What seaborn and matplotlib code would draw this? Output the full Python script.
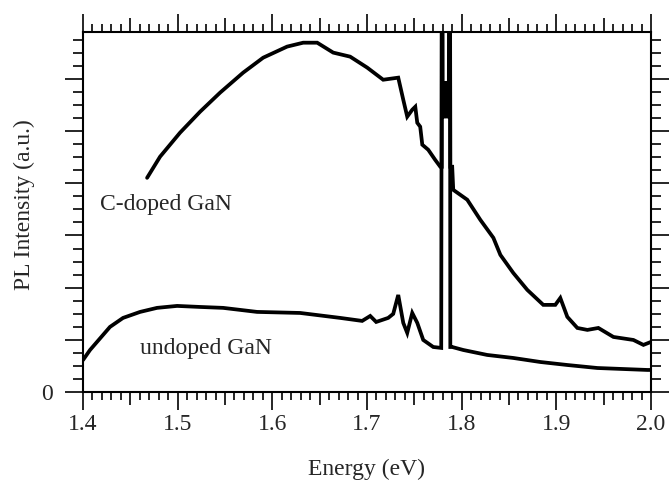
import matplotlib
matplotlib.use("Agg")
import matplotlib.pyplot as plt
import matplotlib.ticker as mticker
import seaborn as sns
import pandas as pd
import numpy as np

# ---- data ----
undoped_x = [1.400, 1.4074, 1.4285, 1.4423, 1.4603, 1.4782, 1.4994, 1.5237, 1.5480, 1.5839,
             1.6294, 1.6717, 1.6949, 1.7034, 1.7097, 1.7224, 1.7277, 1.7330, 1.7383, 1.7425,
             1.7478, 1.7531, 1.7594, 1.7700, 1.7784, 1.7795, 1.7875, 1.7880, 1.7900, 1.8017,
             1.8270, 1.8545, 1.8831, 1.9116, 1.9433, 1.9962, 2.000]
undoped_y = [2.45, 3.22, 4.99, 5.68, 6.14, 6.45, 6.60, 6.52, 6.45, 6.14,
             6.06, 5.68, 5.45, 5.83, 5.37, 5.68, 5.99, 7.44, 5.30, 4.53,
             6.06, 5.30, 3.99, 3.45, 3.38, 60.0, 60.0, 3.45, 3.45, 3.22,
             2.84, 2.61, 2.30, 2.07, 1.84, 1.69, 1.69]

cdoped_x = [1.4677, 1.4814, 1.5025, 1.5237, 1.5448, 1.5691, 1.5903, 1.6156, 1.6326, 1.6474,
            1.6643, 1.6822, 1.7002, 1.7171, 1.7330, 1.7383, 1.7425, 1.7478, 1.7510, 1.7531,
            1.7562, 1.7584, 1.7647, 1.7720, 1.7774, 1.7790, 1.7793, 1.7800, 1.7808, 1.7816,
            1.7824, 1.7832, 1.7840, 1.7848, 1.7856, 1.7864, 1.7872, 1.7880, 1.7900, 1.7911,
            1.8059, 1.8197, 1.8335, 1.8409, 1.8545, 1.8693, 1.8862, 1.8989, 1.9042, 1.9116,
            1.9222, 1.9328, 1.9444, 1.9603, 1.9814, 1.9920, 2.000]
cdoped_y = [16.42, 18.04, 19.88, 21.49, 22.95, 24.48, 25.63, 26.48, 26.78, 26.78,
            26.02, 25.71, 24.87, 23.94, 24.10, 22.41, 21.11, 21.64, 21.87, 20.64,
            20.34, 18.96, 18.57, 17.80, 17.27, 17.27, 60.0, 21.0, 23.8, 21.0,
            23.8, 21.0, 23.8, 21.0, 23.8, 21.0, 60.0, 17.27, 17.27, 15.50,
            14.74, 13.20, 11.82, 10.51, 9.13, 7.83, 6.68, 6.68, 7.21, 5.76,
            4.91, 4.76, 4.91, 4.22, 3.99, 3.61, 3.84]

x_major = [1.4, 1.5, 1.6, 1.7, 1.8, 1.9, 2.0]
x_labels = ["1.4", "1.5", "1.6", "1.7", "1.8", "1.9", "2.0"]
y_major = [0, 4, 8, 12, 16, 20, 24]
y_labels = ["0", "", "", "", "", "", ""]
label_cdoped = "C-doped GaN"
label_undoped = "undoped GaN"
xlabel = "Energy (eV)"
ylabel = "PL Intensity (a.u.)"

# ---- style ----
sns.set_style("ticks")
plt.rcParams["font.family"] = ["Liberation Serif", "DejaVu Serif"]
plt.rcParams["font.size"] = 17

fig = plt.figure(figsize=(6.7, 4.83), dpi=100)
ax = fig.add_axes([83 / 670, 1 - 392 / 483, (651 - 83) / 670, (392 - 32) / 483])

df_u = pd.DataFrame({"x": undoped_x, "y": undoped_y})
df_c = pd.DataFrame({"x": cdoped_x, "y": cdoped_y})
sns.lineplot(data=df_u, x="x", y="y", sort=False, estimator=None, color="black",
             lw=2.7, ax=ax, solid_joinstyle="miter")
sns.lineplot(data=df_c, x="x", y="y", sort=False, estimator=None, color="black",
             lw=2.7, ax=ax, solid_joinstyle="miter")

ax.set_xlim(1.4, 2.0)
ax.set_ylim(0, 27.6)

# x ticks: major every 0.05 (only 0.1 labelled, half ticks shorter), minor every 0.01
xt = [round(1.4 + 0.05 * i, 2) for i in range(13)]
ax.xaxis.set_major_locator(mticker.FixedLocator(xt))
ax.xaxis.set_major_formatter(mticker.FixedFormatter(
    [x_labels[x_major.index(round(v, 1))] if abs(v * 10 - round(v * 10)) < 1e-6 else "" for v in xt]))
ax.xaxis.set_minor_locator(mticker.FixedLocator([round(1.4 + 0.01 * i, 2) for i in range(61)]))

ax.yaxis.set_major_locator(mticker.FixedLocator(y_major))
ax.yaxis.set_major_formatter(mticker.FixedFormatter(y_labels))
ax.yaxis.set_minor_locator(mticker.FixedLocator(list(range(0, 28))))

ax.tick_params(axis="x", which="major", direction="out", length=13, width=1.4,
               top=True, bottom=True, pad=3, labelsize=17)
ax.tick_params(axis="x", which="minor", direction="out", length=5.5, width=1.4,
               top=True, bottom=True)
ax.tick_params(axis="y", which="major", direction="out", length=13, width=1.4,
               left=True, right=True, pad=9, labelsize=17)
ax.tick_params(axis="y", which="minor", direction="out", length=7, width=1.4,
               left=True, right=True)

for s in ax.spines.values():
    s.set_visible(True)
    s.set_linewidth(1.5)
    s.set_color("black")

ax.set_xlabel(xlabel, fontsize=17)
ax.set_ylabel(ylabel, fontsize=17)
ax.xaxis.set_label_coords(0.5, -0.185)
ax.yaxis.set_label_coords(-0.085, 0.52)

ax.text(1.418, 14.4, label_cdoped, fontsize=17, va="center", ha="left")
ax.text(1.460, 3.3, label_undoped, fontsize=17, va="center", ha="left")

fig.canvas.draw()
for v, tk in zip(xt, ax.xaxis.get_major_ticks()):
    if abs(v * 10 - round(v * 10)) > 1e-6:
        tk.tick1line.set_markersize(9)
        tk.tick2line.set_markersize(10)

fig.savefig("out.png", dpi=100)
